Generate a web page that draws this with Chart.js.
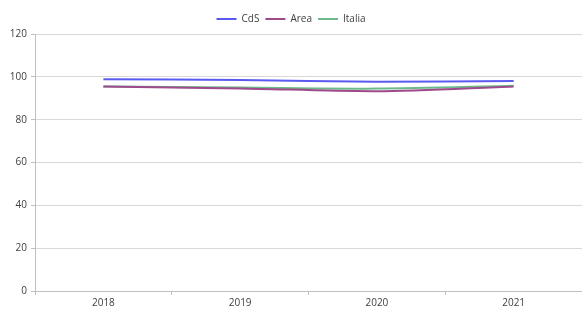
<!DOCTYPE html>
<html>
<head>
<meta charset="utf-8">
<script src="https://cdn.jsdelivr.net/npm/chart.js@4"></script>
<style>
  html, body { margin: 0; padding: 0; background: #fff; }
  #wrap { width: 582px; height: 314px; }
</style>
</head>
<body>
<div id="wrap"><canvas id="c" width="582" height="314"></canvas></div>
<script>
const anni    = ['2018', '2019', '2020', '2021'];
const cds     = [98.9, 98.5, 97.7, 98.1];
const area    = [95.5, 94.6, 93.3, 95.5];
const italia  = [95.5, 95.0, 94.5, 95.8];
const yTicks  = [0, 20, 40, 60, 80, 100, 120];

const fontBase = { family: '"Open Sans", "Liberation Sans", sans-serif', size: 10 };

new Chart(document.getElementById('c'), {
  type: 'line',
  data: {
    labels: anni,
    datasets: [
      { label: 'CdS',    data: cds,    borderColor: '#5a5af0', borderWidth: 2, pointRadius: 0, pointStyle: 'line', tension: 0.3 },
      { label: 'Area',   data: area,   borderColor: '#a04a8c', borderWidth: 2, pointRadius: 0, pointStyle: 'line', tension: 0.3 },
      { label: 'Italia', data: italia, borderColor: '#6cba8c', borderWidth: 2, pointRadius: 0, pointStyle: 'line', tension: 0.3 }
    ]
  },
  options: {
    responsive: false, animation: false,
    layout: { padding: { top: 8, right: 0, left: 0, bottom: 0 } },
    plugins: {
      legend: {
        display: true, position: 'top',
        labels: { usePointStyle: true, pointStyleWidth: 20, boxHeight: 8, padding: 6, color: '#404040', font: fontBase }
      },
      tooltip: { enabled: false }
    },
    scales: {
      x: {
        offset: true,
        grid: { offset: true, drawOnChartArea: false, tickLength: 4, color: '#bfbfbf' },
        border: { color: '#bfbfbf' },
        ticks: { color: '#404040', font: fontBase, padding: 2, maxRotation: 0 },
        afterFit: s => { s.height = 23; }
      },
      y: {
        min: 0, max: 120,
        afterBuildTicks: s => { s.ticks = yTicks.map(v => ({ value: v })); },
        grid: { color: '#d9d9d9', tickLength: 4, tickColor: '#bfbfbf' },
        border: { color: '#bfbfbf' },
        ticks: { color: '#404040', font: fontBase, padding: 4 },
        afterFit: s => { s.width = 35; }
      }
    }
  }
});
</script>
</body>
</html>
